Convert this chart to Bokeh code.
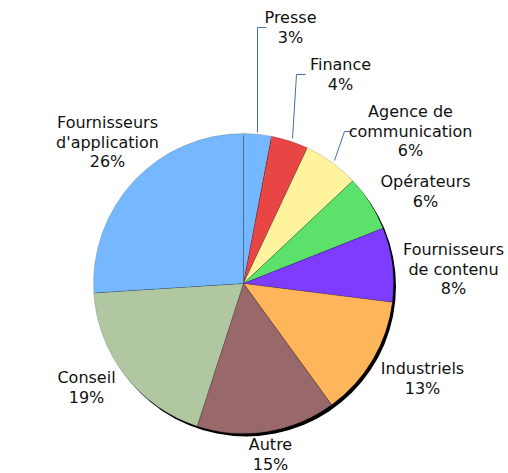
import numpy as np
from bokeh.plotting import figure
from bokeh.models import Range1d, ColumnDataSource
from bokeh.core.properties import value
from bokeh.embed import file_html
from bokeh.resources import INLINE

# ---- data ----
categories = ["Presse", "Finance", "Agence de\ncommunication", "Opérateurs",
              "Fournisseurs\nde contenu", "Industriels", "Autre", "Conseil",
              "Fournisseurs\nd'application"]
shares = [3, 4, 6, 6, 8, 13, 15, 19, 26]
colors = ["#75b8ff", "#e84545", "#fff39e", "#5ce26b", "#7d3cff",
          "#ffb55a", "#98686a", "#b0c7a1", "#75b8ff"]

# ---- layout (pixels, top-left origin) ----
W, H = 508, 473
CX, CY, R = 243, 283, 150
label_pos = [(290, 17), (340, 64), (410, 111), (425, 181), (453, 249),
             (422, 368), (270, 444), (86, 377), (107, 122)]
LINE_H = 19.5
leaders = {
    0: [(257, 132), (257, 27), (266, 27)],
    1: [(292, 138), (296, 74), (305, 74)],
    2: [(334, 160), (344, 131), (352, 131)],
}

p = figure(width=W, height=H, x_range=Range1d(0, W), y_range=Range1d(0, H),
           output_backend="svg", toolbar_location=None, min_border=0)
p.axis.visible = False
p.grid.visible = False
p.outline_line_color = None
p.background_fill_color = "white"
p.border_fill_color = "white"

vals = np.array(shares, dtype=float)
frac = vals / vals.sum()
cum = np.concatenate([[0], np.cumsum(frac)])
start = np.pi / 2 - 2 * np.pi * cum[:-1]
end = np.pi / 2 - 2 * np.pi * cum[1:]

# shadow
p.wedge(x=CX + 2.5, y=H - CY - 3, radius=R, start_angle=0, end_angle=2 * np.pi,
        fill_color="black", line_color=None)

src = ColumnDataSource(dict(start=start, end=end, color=colors))
p.wedge(x=CX, y=H - CY, radius=R, start_angle="start", end_angle="end",
        direction="clock", fill_color="color", line_color="black",
        line_alpha=0.15, line_width=1, source=src)

# leader lines
for i, pts in leaders.items():
    xs = [a for a, b in pts]
    ys = [H - b for a, b in pts]
    p.line(xs, ys, line_color="#4a6ea3", line_width=1)

# labels
tx, ty, tt = [], [], []
for cat, s, (lx, ly) in zip(categories, shares, label_pos):
    lines = cat.split("\n") + [f"{s}%"]
    for k, t in enumerate(lines):
        tx.append(lx)
        ty.append(H - (ly + k * LINE_H))
        tt.append(t)
p.text(x=tx, y=ty, text=tt, text_align="center", text_baseline="middle",
       text_font=value("DejaVu Sans"), text_font_size="16px", text_color="#111111")

open("out.html", "w").write(file_html(p, INLINE))
